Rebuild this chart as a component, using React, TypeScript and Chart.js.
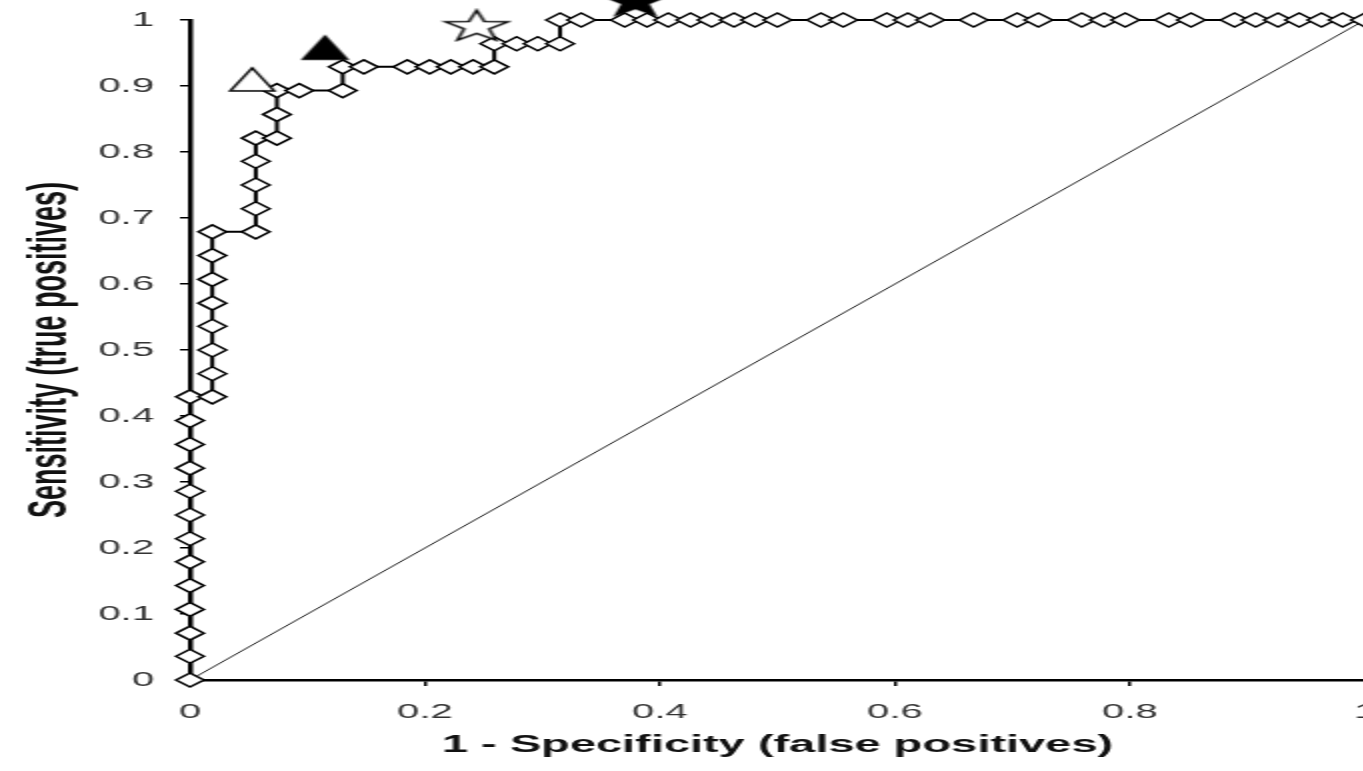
import React, { useEffect, useRef } from "react";
import { Chart, registerables } from "chart.js";

Chart.register(...registerables);

// ROC curve: false positive rate (1 - specificity) vs true positive rate (sensitivity)
const fprValues: number[] = [
  0, 0, 0, 0, 0, 0, 0, 0, 0, 0, 0, 0, 0,
  0.019, 0.019, 0.019, 0.019, 0.019, 0.019, 0.019, 0.019,
  0.056, 0.056, 0.056, 0.056, 0.056,
  0.074, 0.074, 0.074,
  0.093,
  0.13, 0.13,
  0.148, 0.185, 0.204, 0.222, 0.241, 0.259,
  0.259, 0.278, 0.296, 0.315,
  0.315, 0.333, 0.37, 0.389, 0.407, 0.426, 0.444, 0.463, 0.481, 0.5,
  0.537, 0.556, 0.593, 0.611, 0.63, 0.667, 0.704, 0.722, 0.759, 0.778,
  0.796, 0.833, 0.852, 0.889, 0.907, 0.926, 0.944, 0.963, 0.981, 1,
];
const tprValues: number[] = [
  0, 0.036, 0.071, 0.107, 0.143, 0.179, 0.214, 0.25, 0.286, 0.321, 0.357, 0.393, 0.429,
  0.429, 0.464, 0.5, 0.536, 0.571, 0.607, 0.643, 0.679,
  0.679, 0.714, 0.75, 0.786, 0.821,
  0.821, 0.857, 0.893,
  0.893,
  0.893, 0.929,
  0.929, 0.929, 0.929, 0.929, 0.929, 0.929,
  0.964, 0.964, 0.964, 0.964,
  1, 1, 1, 1, 1, 1, 1, 1, 1, 1,
  1, 1, 1, 1, 1, 1, 1, 1, 1, 1,
  1, 1, 1, 1, 1, 1, 1, 1, 1, 1,
];

// Highlighted cut-off points
const cutoffLabels: string[] = ["open triangle", "filled triangle", "open star", "filled star"];
const cutoffFpr: number[] = [0.053, 0.115, 0.244, 0.379];
const cutoffTpr: number[] = [0.91, 0.958, 0.992, 1.03];

// Chance line
const chanceFpr: number[] = [0, 1];
const chanceTpr: number[] = [0, 1];

const xTitle = "1 - Specificity (false positives)";
const yTitle = "Sensitivity (true positives)";

// The drawing surface is rendered at half width and stretched 2x horizontally.
const STRETCH = 2;
const PAGE_W = 1400;
const PAGE_H = 771;

function makeTriangle(w: number, h: number, filled: boolean): HTMLCanvasElement {
  const pad = 2;
  const c = document.createElement("canvas");
  c.width = Math.ceil(w + pad * 2);
  c.height = Math.ceil(h + pad * 2);
  const ctx = c.getContext("2d")!;
  ctx.beginPath();
  ctx.moveTo(c.width / 2, pad);
  ctx.lineTo(c.width - pad, c.height - pad);
  ctx.lineTo(pad, c.height - pad);
  ctx.closePath();
  ctx.fillStyle = filled ? "#000" : "#fff";
  ctx.fill();
  ctx.lineWidth = 1.5;
  ctx.strokeStyle = "#000";
  ctx.stroke();
  return c;
}

function makeStar(R: number, filled: boolean): HTMLCanvasElement {
  const inner = R * 0.4;
  const pts: [number, number][] = [];
  for (let i = 0; i < 10; i++) {
    const a = -Math.PI / 2 + (i * Math.PI) / 5;
    const rad = i % 2 === 0 ? R : inner;
    pts.push([Math.cos(a) * rad, Math.sin(a) * rad]);
  }
  const xs = pts.map((p) => p[0]);
  const ys = pts.map((p) => p[1]);
  const minX = Math.min(...xs), maxX = Math.max(...xs);
  const minY = Math.min(...ys), maxY = Math.max(...ys);
  const pad = 2;
  const c = document.createElement("canvas");
  c.width = Math.ceil(maxX - minX + pad * 2);
  c.height = Math.ceil(maxY - minY + pad * 2);
  const ox = (c.width - (maxX - minX)) / 2 - minX;
  const oy = (c.height - (maxY - minY)) / 2 - minY;
  const ctx = c.getContext("2d")!;
  ctx.beginPath();
  pts.forEach(([x, y], i) => (i === 0 ? ctx.moveTo(x + ox, y + oy) : ctx.lineTo(x + ox, y + oy)));
  ctx.closePath();
  ctx.fillStyle = filled ? "#000" : "#fff";
  ctx.fill();
  ctx.lineWidth = 1.5;
  ctx.strokeStyle = "#000";
  ctx.stroke();
  return c;
}

const formatTick = (v: number | string) => `${Math.round(Number(v) * 10) / 10}`;

export default function App() {
  const canvasRef = useRef<HTMLCanvasElement | null>(null);

  useEffect(() => {
    const canvas = canvasRef.current;
    if (!canvas) return;

    const rocPoints = fprValues.map((x, i) => ({ x, y: tprValues[i] }));
    const chancePoints = chanceFpr.map((x, i) => ({ x, y: chanceTpr[i] }));
    const markerImages = [
      makeTriangle(22, 23, false),
      makeTriangle(22, 23, true),
      makeStar(16.5, false),
      makeStar(16.5, true),
    ];
    const cutoffDatasets = cutoffLabels.map((label, i) => ({
      label,
      data: [{ x: cutoffFpr[i], y: cutoffTpr[i] }],
      showLine: false,
      pointStyle: markerImages[i],
      pointRadius: 30,
      pointBorderWidth: 0,
      clip: false as const,
    }));

    const chartWidth = PAGE_W / STRETCH;
    const plotLeft = 95;
    const plotRight = 682.5;

    const chart = new Chart(canvas, {
      type: "line",
      data: {
        datasets: [
          ...cutoffDatasets,
          {
            label: "ROC",
            data: rocPoints,
            borderColor: "#000",
            borderWidth: 2,
            pointStyle: "rectRot",
            pointRadius: 7,
            pointBackgroundColor: "#fff",
            pointBorderColor: "#000",
            pointBorderWidth: 1.5,
            tension: 0,
            clip: false as const,
          },
          {
            label: "Chance",
            data: chancePoints,
            borderColor: "#222",
            borderWidth: 1,
            pointRadius: 0,
            clip: false as const,
          },
        ],
      },
      options: {
        animation: false,
        responsive: false,
        devicePixelRatio: 1,
        events: [],
        layout: {
          autoPadding: false,
          padding: { left: 0, right: chartWidth - plotRight, top: 20, bottom: 0 },
        },
        plugins: {
          legend: { display: false },
          tooltip: { enabled: false },
        },
        scales: {
          x: {
            type: "linear",
            min: 0,
            max: 1,
            afterFit: (scale: any) => {
              scale.height = PAGE_H - 680;
              scale.paddingLeft = 0;
              scale.paddingRight = 0;
            },
            border: { display: true, color: "#000", width: 2.5 },
            grid: {
              display: true,
              drawOnChartArea: false,
              drawTicks: true,
              tickLength: 6,
              color: "#000",
              lineWidth: 1.5,
            },
            ticks: {
              stepSize: 0.2,
              padding: 14,
              maxRotation: 0,
              color: "#333",
              callback: formatTick,
              font: { family: "'Liberation Sans', Arial, sans-serif", size: 20 },
            },
            title: {
              display: true,
              text: xTitle,
              color: "#111",
              padding: { top: 0, bottom: 11 },
              font: { family: "'Liberation Sans', Arial, sans-serif", size: 23.5, weight: "bold" },
            },
          },
          y: {
            type: "linear",
            min: 0,
            max: 1,
            afterFit: (scale: any) => {
              scale.width = plotLeft;
              scale.paddingTop = 0;
              scale.paddingBottom = 0;
            },
            border: { display: true, color: "#000", width: 2.5 },
            grid: {
              display: true,
              drawOnChartArea: false,
              drawTicks: true,
              tickLength: 5,
              color: "#000",
              lineWidth: 1.5,
            },
            ticks: {
              stepSize: 0.1,
              padding: 13,
              color: "#333",
              callback: formatTick,
              font: { family: "'Liberation Sans', Arial, sans-serif", size: 20 },
            },
            title: {
              display: true,
              text: yTitle,
              color: "#111",
              padding: { top: 9, bottom: 0 },
              font: { family: "'Liberation Sans', Arial, sans-serif", size: 27, weight: "bold" },
            },
          },
        },
      },
    });

    return () => {
      chart.destroy();
    };
  }, []);

  return (
    <div
      style={{
        position: "fixed",
        left: 0,
        top: 0,
        width: "100vw",
        height: "100vh",
        overflow: "hidden",
        background: "#fff",
      }}
    >
      <canvas
        ref={canvasRef}
        width={PAGE_W / STRETCH}
        height={PAGE_H}
        style={{ display: "block", width: `${PAGE_W}px`, height: `${PAGE_H}px` }}
      />
    </div>
  );
}
